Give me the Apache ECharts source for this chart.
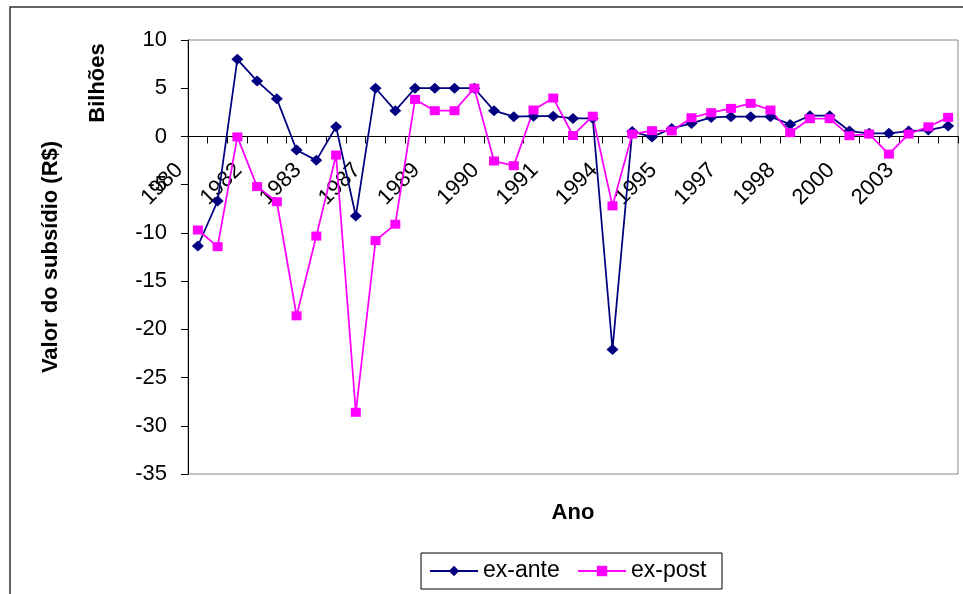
<!DOCTYPE html>
<html>
<head>
<meta charset="utf-8">
<title>Valor do subsídio</title>
<script src="https://cdn.jsdelivr.net/npm/echarts@6/dist/echarts.min.js"></script>
<style>
  html, body { margin: 0; padding: 0; background: #fff; }
  #chart { width: 963px; height: 594px; }
</style>
</head>
<body>
<div id="chart"></div>
<script>
// Period labels (only every third one is shown on the axis)
const years = [
  '1980', '1981', '1981', '1982', '1982', '1983', '1983', '1985', '1986', '1987',
  '1988', '1988', '1989', '1989', '1990', '1990', '1990', '1991', '1991', '1992',
  '1993', '1994', '1994', '1995', '1995', '1996', '1996', '1997', '1997', '1998',
  '1998', '1999', '1999', '2000', '2001', '2002', '2003', '2003', '2004'
];

// Subsidy value, billions of R$
const exAnte = [
  -11.36, -6.7, 8.0, 5.74, 3.9, -1.41, -2.48, 1.0, -8.25, 5.0,
  2.67, 5.0, 5.0, 5.0, 5.0, 2.67, 2.05, 2.1, 2.1, 1.87,
  1.87, -22.1, 0.5, -0.05, 0.83, 1.35, 1.97, 2.05, 2.05, 2.05,
  1.25, 2.15, 2.15, 0.56, 0.32, 0.32, 0.56, 0.66, 1.08
];
const exPost = [
  -9.7, -11.43, -0.05, -5.2, -6.77, -18.6, -10.33, -1.93, -28.6, -10.8,
  -9.1, 3.84, 2.67, 2.67, 5.0, -2.55, -3.03, 2.74, 3.98, 0.1,
  2.1, -7.2, 0.25, 0.6, 0.57, 1.94, 2.46, 2.91, 3.43, 2.74,
  0.39, 1.84, 1.84, 0.08, 0.25, -1.83, 0.25, 1.0, 1.98
];

// Value axis ticks
const yMin = -35, yMax = 10, yStep = 5;

const FONT = '"Liberation Sans", Arial, sans-serif';

// Plot area box
const GRID = { left: 188, right: 5, top: 40, bottom: 120 };
const plotHeight = 594 - GRID.top - GRID.bottom;
// The category axis crosses the value axis at zero: shift it up from the bottom edge
const zeroOffset = -plotHeight * (0 - yMin) / (yMax - yMin);

const chart = echarts.init(document.getElementById('chart'), null, { renderer: 'canvas' });

chart.setOption({
  backgroundColor: '#ffffff',
  animation: false,
  textStyle: { fontFamily: FONT, color: '#000' },
  grid: Object.assign({
    show: true, borderColor: '#888888', borderWidth: 1,
    backgroundColor: 'transparent'
  }, GRID),
  xAxis: {
    type: 'category',
    data: years,
    position: 'bottom',
    offset: zeroOffset,
    boundaryGap: true,
    axisLine: { onZero: false, lineStyle: { color: '#000', width: 1 } },
    axisTick: { show: true, interval: 0, length: 7, lineStyle: { color: '#000', width: 1 } },
    axisLabel: {
      interval: 2,
      rotate: 45,
      margin: 12,
      padding: [0, 26, 0, 0],
      fontSize: 22,
      fontFamily: FONT,
      color: '#000'
    },
    splitLine: { show: false }
  },
  yAxis: {
    type: 'value',
    min: yMin, max: yMax, interval: yStep,
    name: 'Valor do subsídio (R$)',
    nameLocation: 'middle',
    nameGap: 126,
    nameTextStyle: { fontSize: 22, fontWeight: 'bold', fontFamily: FONT, color: '#000' },
    axisLine: { show: true, lineStyle: { color: '#000', width: 1 } },
    axisTick: { show: true, length: 7, lineStyle: { color: '#000', width: 1 } },
    axisLabel: { fontSize: 22, margin: 21, fontFamily: FONT, color: '#000' },
    splitLine: { show: false }
  },
  legend: {
    left: 421, top: 553,
    orient: 'horizontal',
    padding: [6, 9, 6, 8],
    itemGap: 12,
    itemWidth: 48,
    itemHeight: 13,
    borderColor: '#000',
    borderWidth: 1,
    textStyle: { fontSize: 23, fontFamily: FONT, color: '#000', width: 82, lineHeight: 24 },
    data: ['ex-ante', 'ex-post']
  },
  graphic: [
    {
      type: 'rect',
      shape: { x: 10, y: 7, width: 1000, height: 700 },
      style: { fill: 'none', stroke: '#333', lineWidth: 1.5 },
      silent: true
    },
    {
      type: 'text',
      x: 98, y: 83,
      rotation: Math.PI / 2,
      style: {
        text: 'Bilhões',
        font: 'bold 22px ' + FONT,
        fill: '#000',
        align: 'center',
        verticalAlign: 'middle'
      }
    },
    {
      type: 'text',
      x: 573, y: 513,
      style: {
        text: 'Ano',
        font: 'bold 22px ' + FONT,
        fill: '#000',
        align: 'center',
        verticalAlign: 'middle'
      }
    }
  ],
  series: [
    {
      name: 'ex-ante',
      type: 'line',
      data: exAnte,
      symbol: 'diamond',
      symbolSize: [12, 11],
      showAllSymbol: true,
      lineStyle: { color: '#000080', width: 1.75 },
      itemStyle: { color: '#000080' }
    },
    {
      name: 'ex-post',
      type: 'line',
      data: exPost,
      symbol: 'rect',
      symbolSize: [10, 9],
      showAllSymbol: true,
      lineStyle: { color: '#ff00ff', width: 1.75 },
      itemStyle: { color: '#ff00ff' }
    }
  ]
});
</script>
</body>
</html>
